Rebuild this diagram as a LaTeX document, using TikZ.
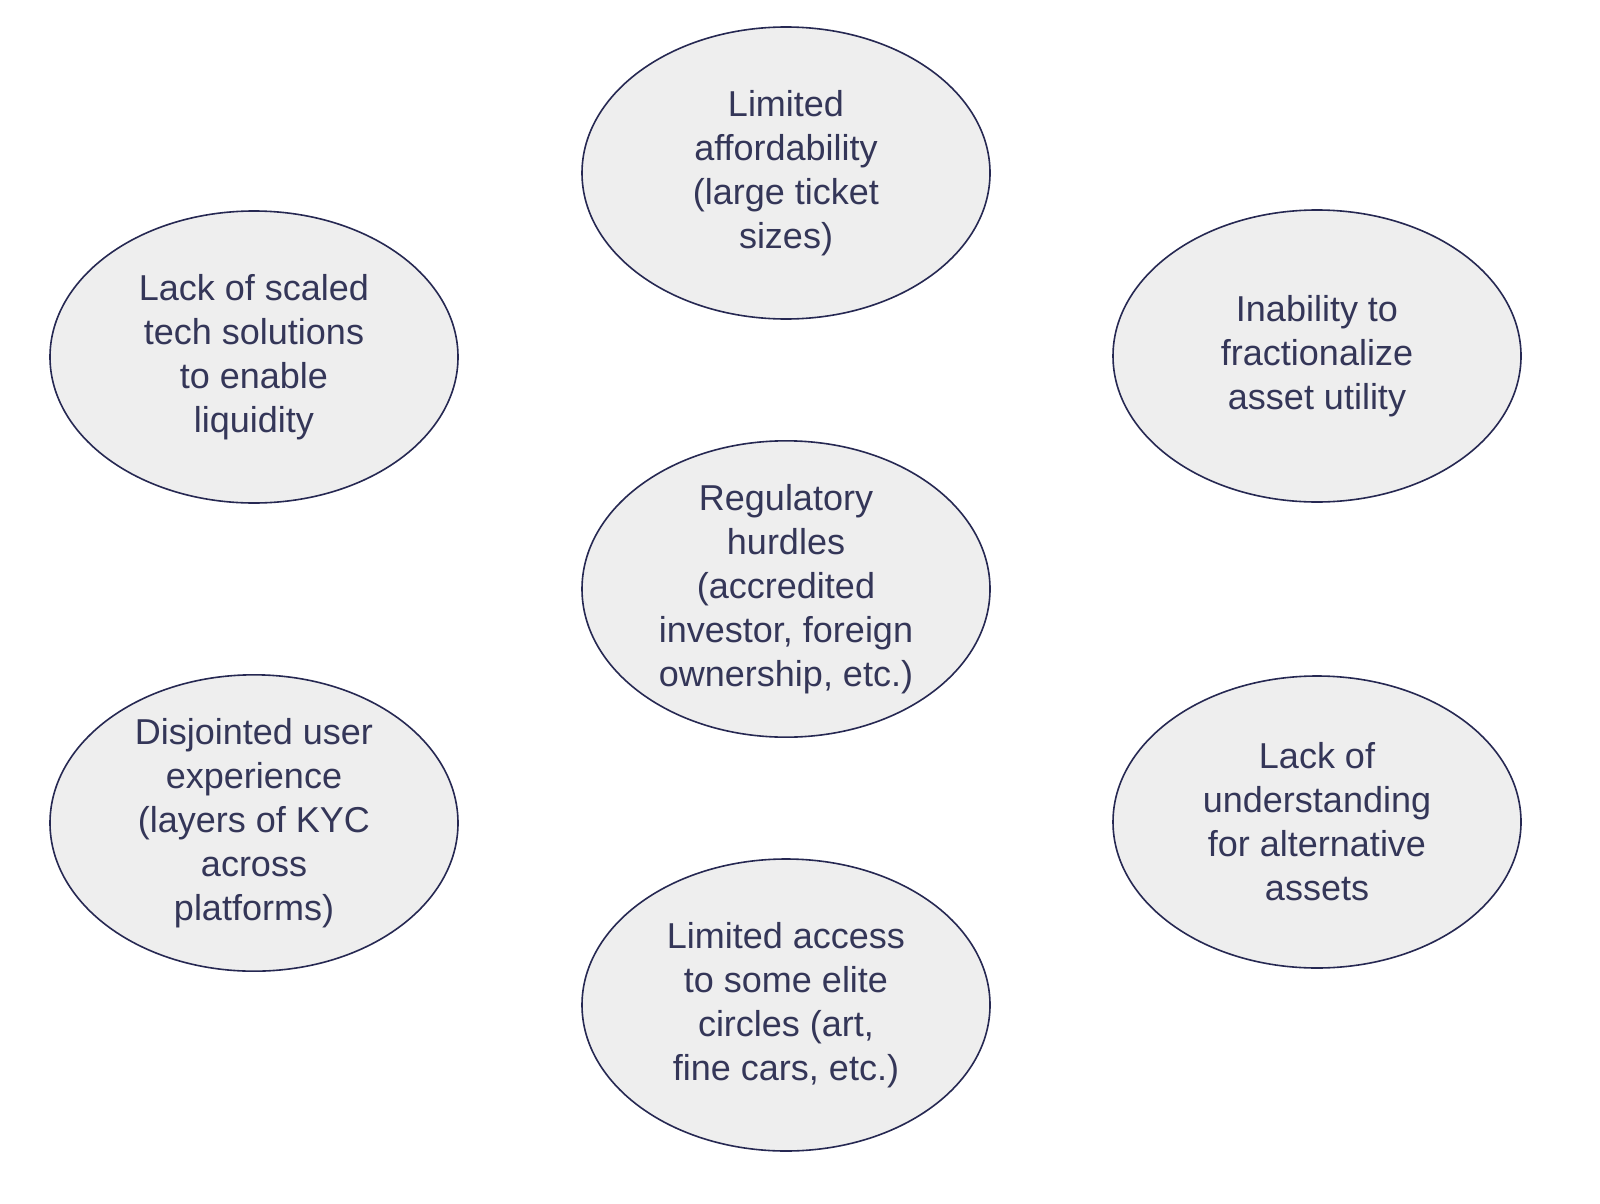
\documentclass[tikz,border=0pt]{standalone}
\usepackage{fontspec}
\setmainfont{Liberation Sans}
\usetikzlibrary{shapes.geometric}
\definecolor{edgeColor}{RGB}{38,40,82}
\definecolor{fillColor}{RGB}{238,238,238}
\definecolor{textColor}{RGB}{52,54,88}
\tikzset{
  issue/.style={ellipse,draw=edgeColor,fill=fillColor,line width=1.6pt,
    minimum width=408pt,minimum height=292pt,inner sep=0pt,align=center,
    text=textColor,font=\fontsize{36}{44}\selectfont}
}
\begin{document}
\begin{tikzpicture}[x=1pt,y=-1pt]
\path[use as bounding box,fill=white] (0,0) rectangle (1600,1204);

\node[issue] (afford) at (786,173) {Limited\\affordability\\(large ticket\\sizes)};

\node[issue] (tech) at (254,357) {Lack of scaled\\tech solutions\\to enable\\liquidity};

\node[issue] (fraction) at (1317,356) {Inability to\\fractionalize\\asset utility};

\node[issue] (regul) at (786,589) {Regulatory\\hurdles\\(accredited\\investor, foreign\\ownership, etc.)};

\node[issue] (ux) at (254,823) {Disjointed user\\experience\\(layers of KYC\\across\\platforms)};

\node[issue] (knowledge) at (1317,822) {Lack of\\understanding\\for alternative\\assets};

\node[issue] (access) at (786,1005) {Limited access\\to some elite\\circles (art,\\fine cars, etc.)};
\end{tikzpicture}
\end{document}
